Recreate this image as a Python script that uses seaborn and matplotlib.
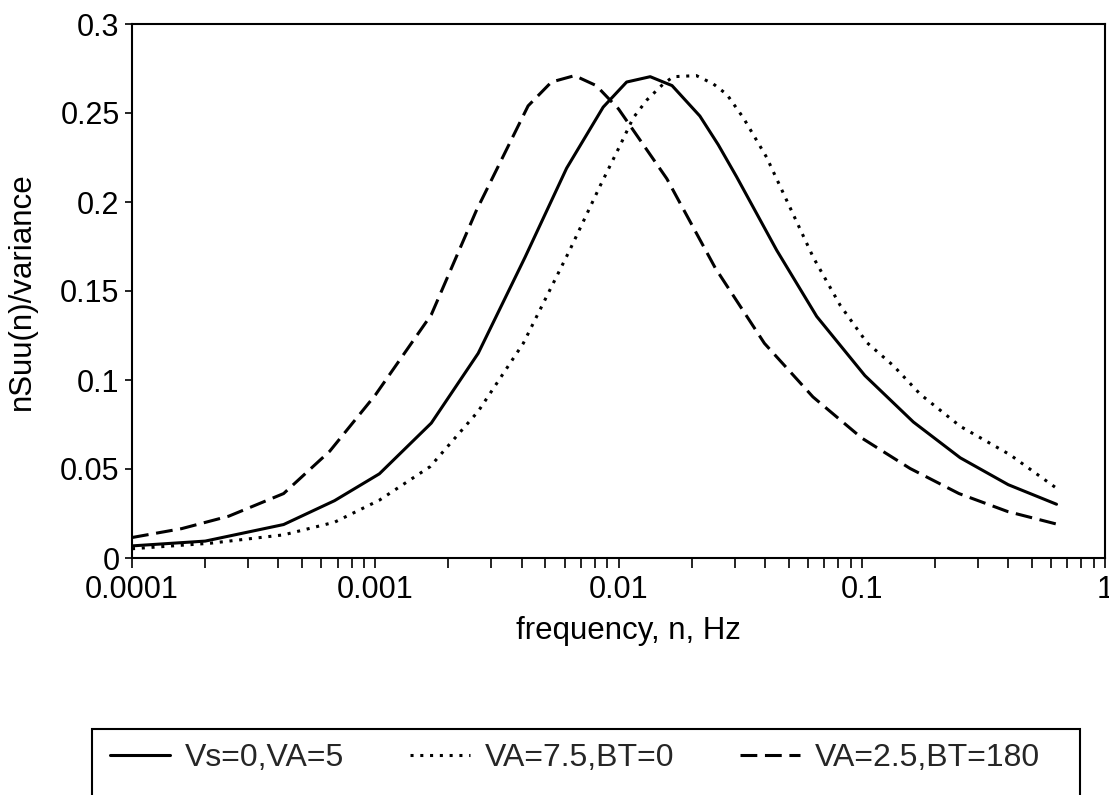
import numpy as np
import pandas as pd
import matplotlib
matplotlib.use("Agg")
import matplotlib.pyplot as plt
import seaborn as sns
from matplotlib.patches import Rectangle
from matplotlib.ticker import LogLocator, NullFormatter

# ---------------- data ----------------
series_names = ["Vs=0,VA=5", "VA=7.5,BT=0", "VA=2.5,BT=180"]

freq_vs0_va5 = [0.0001, 0.0002, 0.00042, 0.00068, 0.00104, 0.0017, 0.00265,
                0.00413, 0.00612, 0.00865, 0.0108, 0.0135, 0.0166, 0.0216,
                0.0257, 0.0306, 0.0447, 0.0653, 0.103, 0.163, 0.254, 0.40, 0.632]
val_vs0_va5 = [0.0068, 0.0095, 0.0188, 0.0322, 0.0473, 0.0758, 0.115,
               0.169, 0.219, 0.2533, 0.2674, 0.2704, 0.2654, 0.2483,
               0.2322, 0.2141, 0.1729, 0.1357, 0.1025, 0.0764, 0.0563, 0.0412, 0.0302]

freq_va75_bt0 = [0.0001, 0.00021, 0.00042, 0.00068, 0.00104, 0.00168, 0.00265,
                 0.00406, 0.0063, 0.0084, 0.0101, 0.0115, 0.0131, 0.0153,
                 0.0168, 0.0209, 0.0245, 0.0279, 0.0326, 0.0406, 0.0491,
                 0.0632, 0.0815, 0.105, 0.135, 0.174, 0.254, 0.407, 0.632]
val_va75_bt0 = [0.0052, 0.0083, 0.013, 0.0201, 0.0325, 0.0513, 0.0824,
                0.1206, 0.1729, 0.209, 0.2312, 0.2473, 0.2574, 0.2664,
                0.2704, 0.271, 0.2664, 0.2604, 0.2473, 0.2252, 0.201,
                0.1689, 0.142, 0.121, 0.108, 0.092, 0.074, 0.058, 0.0392]

freq_va25_bt180 = [0.0001, 0.00016, 0.00025, 0.00042, 0.00065, 0.001, 0.0017,
                   0.0026, 0.00425, 0.0053, 0.0066, 0.0081, 0.01, 0.0158,
                   0.025, 0.0398, 0.063, 0.1, 0.158, 0.251, 0.398, 0.631]
val_va25_bt180 = [0.0115, 0.0165, 0.0235, 0.0362, 0.060, 0.0915, 0.1367,
                  0.195, 0.254, 0.2674, 0.271, 0.2654, 0.2523, 0.2131,
                  0.1629, 0.1206, 0.0905, 0.0674, 0.0503, 0.0362, 0.0261, 0.0191]

xtick_vals = [0.0001, 0.001, 0.01, 0.1, 1]
xtick_labels = ["0.0001", "0.001", "0.01", "0.1", "1"]
ytick_vals = [0, 0.05, 0.1, 0.15, 0.2, 0.25, 0.3]
ytick_labels = ["0", "0.05", "0.1", "0.15", "0.2", "0.25", "0.3"]

# ---------------- build table ----------------
df = pd.concat([
    pd.DataFrame({"freq": freq_vs0_va5, "value": val_vs0_va5, "series": series_names[0]}),
    pd.DataFrame({"freq": freq_va75_bt0, "value": val_va75_bt0, "series": series_names[1]}),
    pd.DataFrame({"freq": freq_va25_bt180, "value": val_va25_bt180, "series": series_names[2]}),
], ignore_index=True)

# ---------------- style ----------------
sns.set_theme(style="ticks")
plt.rcParams["font.family"] = ["Liberation Sans", "DejaVu Sans"]
plt.rcParams["lines.linewidth"] = 2.2
plt.rcParams["axes.linewidth"] = 1.5

W, H = 1109, 795
fig = plt.figure(figsize=(W / 100, H / 100), dpi=100)
ax = fig.add_axes([132 / W, 1 - 558 / H, (1105 - 132) / W, (558 - 24) / H])

dash_map = {series_names[0]: "", series_names[1]: (1.0, 2.2), series_names[2]: (5.5, 2.5)}
sns.lineplot(data=df, x="freq", y="value", hue="series", style="series",
             hue_order=series_names, style_order=series_names,
             palette={n: "black" for n in series_names}, dashes=dash_map,
             linewidth=2.2, estimator=None, sort=True, ax=ax)

ax.set_xscale("log")
ax.set_xlim(1e-4, 1)
ax.set_ylim(0, 0.3)
ax.set_xticks(xtick_vals, labels=xtick_labels)
ax.xaxis.set_minor_locator(LogLocator(base=10, subs=np.arange(2, 10)))
ax.xaxis.set_minor_formatter(NullFormatter())
ax.set_yticks(ytick_vals, labels=ytick_labels)

ax.tick_params(axis="x", which="both", direction="out", length=7, width=1.2,
               pad=5, labelsize=22, colors="black")
ax.tick_params(axis="y", which="major", direction="out", length=5, width=1.2,
               pad=4, labelsize=22, colors="black")
for s in ax.spines.values():
    s.set_visible(True)
    s.set_color("black")
    s.set_linewidth(1.5)

ax.set_xlabel("frequency, n, Hz", fontsize=22.5, color="black")
ax.xaxis.label.set_va("baseline")
ax.xaxis.set_label_coords(0.51, -0.1517)
ax.set_ylabel("nSuu(n)/variance", fontsize=22.5, color="black")
ax.yaxis.label.set_va("center")
ax.yaxis.set_label_coords(-0.113, 0.5)

sns.move_legend(ax, "center left", bbox_to_anchor=(110 / W, 1 - 758 / H),
                bbox_transform=fig.transFigure, ncol=3, title=None,
                frameon=False, fontsize=23, handlelength=1.88,
                handletextpad=0.47, columnspacing=2.05, borderpad=0,
                borderaxespad=0)

box = Rectangle((92 / W, -0.05), (1080 - 92) / W, (1 - 729 / H) + 0.05,
                transform=fig.transFigure, fill=False, edgecolor="black",
                linewidth=1.5, clip_on=False)
fig.add_artist(box)

fig.savefig("out.png", dpi=100)
